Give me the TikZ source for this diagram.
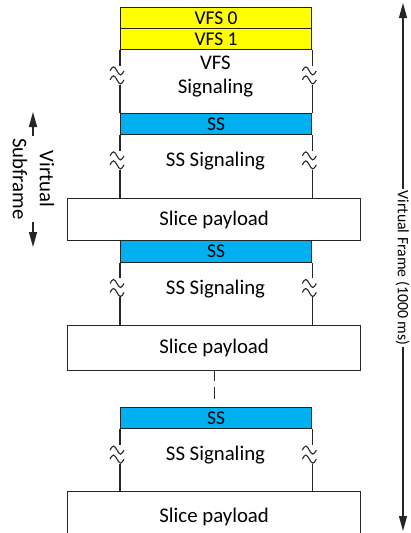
\documentclass[tikz,border=0pt]{standalone}
\usepackage{fontspec}
\setmainfont{Carlito}
\usetikzlibrary{arrows.meta}
\definecolor{vfsyellow}{HTML}{FFFF00}
\definecolor{ssblue}{HTML}{00B0F0}
\definecolor{ink}{HTML}{262626}
\begin{document}
\begin{tikzpicture}[x=1pt,y=-1pt,line width=1.3pt,draw=ink,
  hdrbox/.style={draw=ink,anchor=north west,minimum width=191pt,minimum height=21pt,inner sep=0pt,font=\fontsize{19.5}{20}\selectfont},
  vfsbox/.style={hdrbox,fill=vfsyellow},
  ssbox/.style={hdrbox,fill=ssblue},
  paybox/.style={draw=ink,anchor=north west,minimum width=293pt,inner sep=0pt,font=\fontsize{20.8}{24}\selectfont},
  sigtext/.style={font=\fontsize{20.8}{24}\selectfont,align=center,inner sep=0pt},
  tip/.style={-{Triangle[length=15pt,width=8pt]},line width=1.2pt},
  brk/.pic={
    \path[fill=white,draw=none] (-2,-11) rectangle (2,11);
    \draw[line width=1.1pt,ink] (0,-11) -- (0,-9.5);
    \draw[line width=1.1pt,ink] (-10,-4.5) sin (-6.5,-8.5) cos (-3,-4.5) sin (0.5,-0.5) cos (4,-4.5);
    \draw[line width=1.1pt,ink] (-10,4.5) sin (-6.5,0.5) cos (-3,4.5) sin (0.5,8.5) cos (4,4.5);
    \draw[line width=1.1pt,ink] (0,11) -- (0,9.5);
  }]
\clip (0,0) rectangle (411,533);
\fill[white] (0,0) rectangle (411,533);

% header boxes
\node[vfsbox] (vfs0) at (120,7) {VFS 0};
\node[vfsbox] (vfs1) at (120,28) {VFS 1};
\node[sigtext] (vfssig) at (215.5,77) {VFS\\[0pt]Signaling};
\node[ssbox] (ss1) at (120,113) {SS};
\node[sigtext] (sssig1) at (215.5,161) {SS Signaling};
\node[paybox,minimum height=42pt] (sp1) at (67,198) {Slice payload};
\node[ssbox,minimum height=22pt] (ss2) at (120,240) {SS};
\node[sigtext] (sssig2) at (215.5,289) {SS Signaling};
\node[paybox,minimum height=45pt] (sp2) at (67,325) {Slice payload};
\node[ssbox] (ss3) at (120,407) {SS};
\node[sigtext] (sssig3) at (215.5,455) {SS Signaling};
\node[paybox,minimum height=50pt] (sp3) at (67,491) {Slice payload};

% side walls with breaks
\draw (vfs1.south west) -- (ss1.north west) pic[pos=0.4]{brk};
\draw (vfs1.south east) -- (ss1.north east) pic[pos=0.4]{brk};
\draw (ss1.south west) -- (ss1.south west |- sp1.north) pic[pos=0.4]{brk};
\draw (ss1.south east) -- (ss1.south east |- sp1.north) pic[pos=0.4]{brk};
\draw (ss2.south west) -- (ss2.south west |- sp2.north) pic[pos=0.4]{brk};
\draw (ss2.south east) -- (ss2.south east |- sp2.north) pic[pos=0.4]{brk};
\draw (ss3.south west) -- (ss3.south west |- sp3.north) pic[pos=0.41]{brk};
\draw (ss3.south east) -- (ss3.south east |- sp3.north) pic[pos=0.41]{brk};

% dashed continuation
\draw[dash pattern=on 10pt off 6pt on 12pt off 20pt] (sp2.south) -- (sp2.south |- ss3.north);

% virtual subframe
\coordinate (vsTop) at (33,112);
\coordinate (vsBot) at (33,247);
\node[rotate=-90,align=center,font=\fontsize{20.8}{27}\selectfont,inner sep=2pt] (vs) at (33.5,179) {Virtual\\Subframe};
\draw[tip] (vsTop |- vs.west) -- (vsTop);
\draw[tip] (vsBot |- vs.east) -- (vsBot);

% virtual frame
\coordinate (vfTop) at (403,3);
\coordinate (vfBot) at (403,531);
\node[rotate=-90,font=\fontsize{15.8}{18}\selectfont,inner sep=1.5pt] (vf) at (402.5,268) {Virtual Frame (1000 ms)};
\draw[tip] (vfTop |- vf.west) -- (vfTop);
\draw[tip] (vfBot |- vf.east) -- (vfBot);
\end{tikzpicture}
\end{document}
